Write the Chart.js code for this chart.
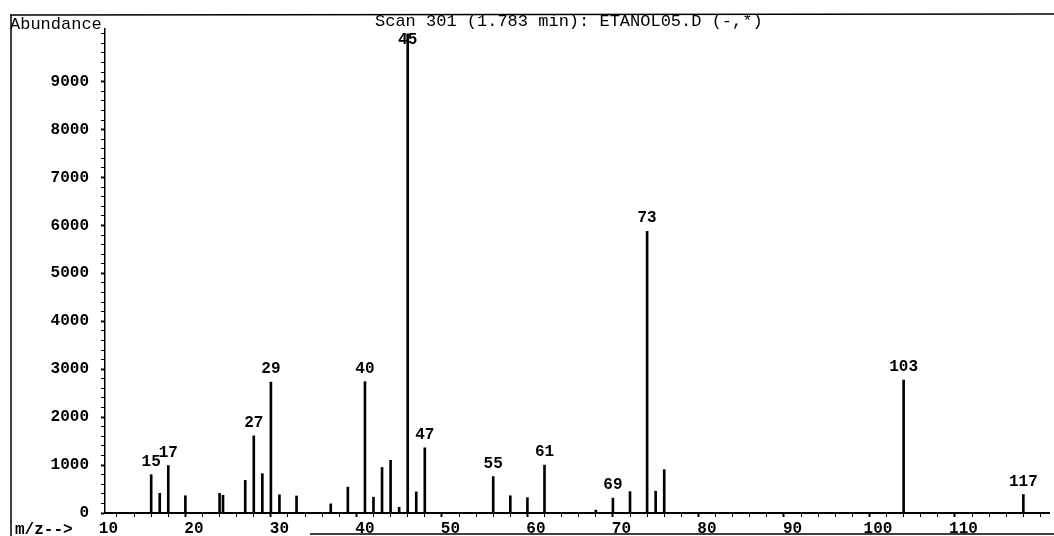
<!DOCTYPE html>
<html>
<head>
<meta charset="utf-8">
<script src="https://cdn.jsdelivr.net/npm/chart.js@4/dist/chart.umd.min.js"></script>
<style>
  html, body { margin: 0; padding: 0; background: #fff; }
</style>
</head>
<body>
<canvas id="spectrum" width="1054" height="536"></canvas>
<script>
// peaks (m/z and abundance)
const mzValues = [15, 16, 17, 19, 23, 23.4, 26, 27, 28, 29, 30, 32, 36, 38, 40, 41, 42, 43, 44, 45,
                  46, 47, 55, 57, 59, 61, 67, 69, 71, 73, 74, 75, 103, 117];
const abundance = [800, 410, 990, 360, 410, 370, 680, 1610, 820, 2730, 380, 355, 190, 540, 2740, 330, 950, 1100, 120, 10000,
                   440, 1360, 760, 360, 320, 1000, 60, 310, 445, 5880, 455, 905, 2775, 385];
// peaks that carry a number above them
const labelledMz = [15, 17, 27, 29, 40, 45, 47, 55, 61, 69, 73, 103, 117];
const xMajorTicks = [10, 20, 30, 40, 50, 60, 70, 80, 90, 100, 110];
const yMajorTicks = [0, 1000, 2000, 3000, 4000, 5000, 6000, 7000, 8000, 9000];
const titleText = 'Scan 301 (1.783 min): ETANOL05.D (-,*)';

const monoFont = '"Liberation Mono", "Courier New", monospace';

//Draw text and frame
const overlay = {
    id: 'overlay',
    afterDraw: function (chart) {
        const ctx = chart.ctx;
        ctx.save();
        ctx.strokeStyle = '#000';
        ctx.lineWidth = 1.5;
        ctx.beginPath();
        ctx.moveTo(10, 15); ctx.lineTo(1054, 14);
        ctx.moveTo(11, 15); ctx.lineTo(11, 536);
        ctx.moveTo(310, 534); ctx.lineTo(1054, 534);
        ctx.stroke();

        ctx.fillStyle = '#000';
        ctx.textAlign = 'left';
        ctx.textBaseline = 'alphabetic';
        ctx.font = '17px ' + monoFont;
        ctx.fillText('Abundance', 10, 29);
        ctx.fillText(titleText, 375, 26);
        ctx.font = 'bold 16px ' + monoFont;
        ctx.fillText('m/z-->', 15, 534);

        const meta = chart.getDatasetMeta(0);
        ctx.textAlign = 'center';
        ctx.textBaseline = 'middle';
        ctx.font = 'bold 16px ' + monoFont;
        labelledMz.forEach(function (mz) {
            const i = mzValues.indexOf(mz);
            const bar = meta.data[i];
            const y = Math.max(bar.y - 13, 40);
            ctx.fillText(String(mz), bar.x, y);
        });
        ctx.restore();
    }
};

const points = mzValues.map((m, i) => ({x: m, y: abundance[i]}));

new Chart(document.getElementById('spectrum').getContext('2d'), {
    type: 'bar',
    data: {
        datasets: [{
            data: points,
            backgroundColor: '#000',
            borderWidth: 0,
            barThickness: 2,
        }]
    },
    options: {
        responsive: false,
        animation: false,
        layout: {
            padding: {top: 29, right: 5, left: 0, bottom: 0}
        },
        plugins: {
            legend: {display: false},
            tooltip: {enabled: false},
        },
        scales: {
            x: {
                type: 'linear',
                min: 9.6,
                max: 120,
                offset: false,
                afterBuildTicks: function (scale) {
                    const ticks = [];
                    for (let v = 10; v <= 118; v += 2) {
                        ticks.push({value: v});
                    }
                    scale.ticks = ticks;
                },
                afterFit: function (scale) {
                    scale.height = 23;
                },
                grid: {
                    drawOnChartArea: false,
                    drawTicks: true,
                    tickLength: 4,
                    tickColor: '#000',
                    tickWidth: (c) => xMajorTicks.includes(c.tick && c.tick.value) ? 2 : 1,
                },
                border: {color: '#000', width: 2},
                ticks: {
                    autoSkip: false,
                    maxRotation: 0,
                    padding: 2,
                    color: '#000',
                    font: {family: monoFont, size: 16, weight: 'bold'},
                    callback: (v) => xMajorTicks.includes(v) ? String(v) : '',
                }
            },
            y: {
                min: 0,
                max: 10100,
                afterBuildTicks: function (scale) {
                    const ticks = [];
                    for (let v = 0; v <= 10000; v += 200) {
                        ticks.push({value: v});
                    }
                    scale.ticks = ticks;
                },
                afterFit: function (scale) {
                    scale.width = 105;
                },
                grid: {
                    drawOnChartArea: false,
                    drawTicks: true,
                    tickLength: 4,
                    tickColor: '#000',
                    tickWidth: (c) => yMajorTicks.includes(c.tick && c.tick.value) ? 2 : 1,
                },
                border: {color: '#000', width: 1.5},
                ticks: {
                    autoSkip: false,
                    padding: 12,
                    color: '#000',
                    font: {family: monoFont, size: 16, weight: 'bold'},
                    callback: (v) => yMajorTicks.includes(v) ? String(v) : '',
                }
            }
        }
    },
    plugins: [overlay]
});
</script>
</body>
</html>
